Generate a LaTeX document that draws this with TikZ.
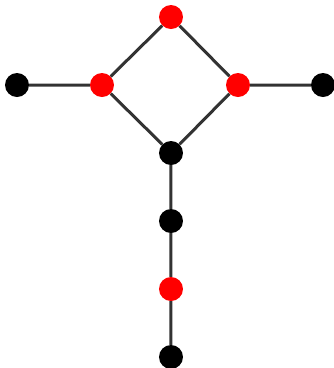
\documentclass[tikz,border=0pt]{standalone}
\begin{document}
\begin{tikzpicture}[x=1pt,y=-1pt,
  vtx/.style={circle,inner sep=0pt,minimum size=24pt,draw=none},
  rv/.style={vtx,fill=red},
  bv/.style={vtx,fill=black},
  edge/.style={draw=black!80,line width=3pt}]
\useasboundingbox (0,0) rectangle (334,368);
\node[rv] (t) at (171,17) {};
\node[rv] (l) at (102,85) {};
\node[rv] (r) at (238,85) {};
\node[bv] (ll) at (17,85) {};
\node[bv] (rr) at (323,85) {};
\node[bv] (c) at (171,153) {};
\node[bv] (d1) at (171,221) {};
\node[rv] (d2) at (171,289) {};
\node[bv] (d3) at (171,357) {};
\path[edge] (ll) -- (l) (t) -- (l) (t) -- (r) (l) -- (c) (r) -- (c) (r) -- (rr) (c) -- (d1) (d1) -- (d2) (d2) -- (d3);
\end{tikzpicture}
\end{document}
